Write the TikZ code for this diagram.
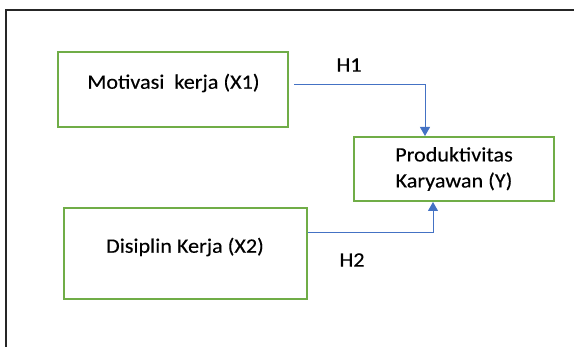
\documentclass[tikz,border=0pt]{standalone}
\usepackage{fontspec}
\setmainfont{Carlito}[FakeStretch=1.08, FakeBold=0.3]
\usetikzlibrary{arrows.meta}
\definecolor{boxgreen}{HTML}{70AD47}
\definecolor{arrowblue}{HTML}{4472C4}
\definecolor{framegray}{HTML}{262626}
\tikzset{
  greenbox/.style={draw=boxgreen, line width=2pt, minimum width=#1, inner sep=0pt},
  lbl/.style={font=\fontsize{20.5}{26}\selectfont, inner sep=0pt, text=black},
  conn/.style={draw=arrowblue, line width=1pt, -{Triangle[width=10pt,length=9pt]}}
}
\begin{document}
\begin{tikzpicture}[x=1pt,y=-1pt]
\useasboundingbox (0,0) rectangle (574,347);
\draw[framegray, line width=1.6pt] (6,350) -- (6,10) -- (580,10);
% boxes
\node[greenbox=230pt, minimum height=75pt] (x1) at (173,89.5) {};
\node[lbl] (x1t) at (173.5,83) {Motivasi\ \ kerja (X1)};
\node[greenbox=243pt, minimum height=91pt] (x2) at (185.5,253.5) {};
\node[lbl] (x2t) at (185,247) {Disiplin Kerja (X2)};
\node[greenbox=200pt, minimum height=64pt, lbl, draw=boxgreen, align=center] (y) at (454,169) {Produktivitas\\Karyawan (Y)};
% labels
\node[lbl] (h1) at (349,65) {H1};
\node[lbl] (h2) at (352,260) {H2};
% connectors
\coordinate (a1) at (294,85);
\coordinate (a1c) at (425,85);
\draw[conn] (a1) -- (a1c) -- (a1c |- y.north);
\coordinate (a2c) at (433,233);
\draw[conn] (a2c -| x2.east) -- (a2c) -- (a2c |- y.south);
\end{tikzpicture}
\end{document}
